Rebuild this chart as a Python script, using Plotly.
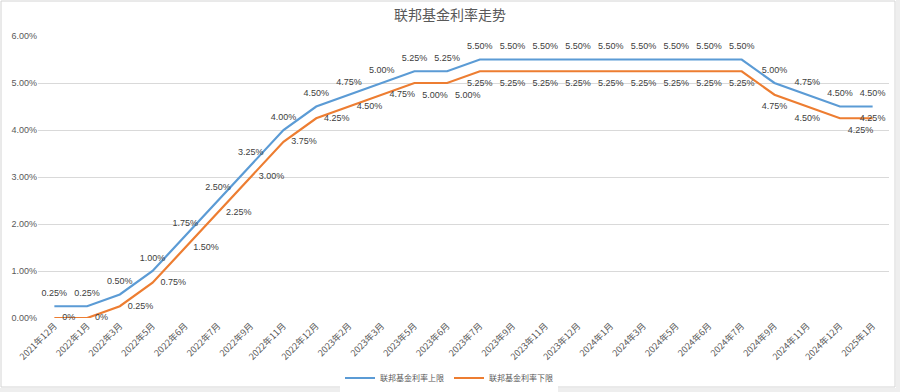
import plotly.graph_objects as go

categories = ["2021年12月", "2022年1月", "2022年3月", "2022年5月", "2022年6月", "2022年7月",
              "2022年9月", "2022年11月", "2022年12月", "2023年2月", "2023年3月", "2023年5月",
              "2023年6月", "2023年7月", "2023年9月", "2023年11月", "2023年12月", "2024年1月",
              "2024年3月", "2024年5月", "2024年6月", "2024年7月", "2024年9月", "2024年11月",
              "2024年12月", "2025年1月"]
upper = [0.25, 0.25, 0.50, 1.00, 1.75, 2.50, 3.25, 4.00, 4.50, 4.75, 5.00, 5.25, 5.25,
         5.50, 5.50, 5.50, 5.50, 5.50, 5.50, 5.50, 5.50, 5.50, 5.00, 4.75, 4.50, 4.50]
lower = [0.00, 0.00, 0.25, 0.75, 1.50, 2.25, 3.00, 3.75, 4.25, 4.50, 4.75, 5.00, 5.00,
         5.25, 5.25, 5.25, 5.25, 5.25, 5.25, 5.25, 5.25, 5.25, 4.75, 4.50, 4.25, 4.25]
y_ticks = [0, 1, 2, 3, 4, 5, 6]
y_tick_labels = ["0.00%", "1.00%", "2.00%", "3.00%", "4.00%", "5.00%", "6.00%"]


def fmt(v):
    return "0%" if v == 0 else f"{v:.2f}%"


lower_pos = (["middle right"] * 11 + ["bottom right"] * 2 + ["bottom center"] * 9
             + ["bottom center", "bottom center", "bottom right", "middle center"])

BLUE = "#5B9BD5"
ORANGE = "#ED7D31"
FONT = "Noto Sans CJK SC, Liberation Sans, sans-serif"
LABEL_FONT = dict(size=9, color="#404040", family="Liberation Sans, sans-serif")
CLEAR = "rgba(0,0,0,0)"

fig = go.Figure()
fig.add_trace(go.Scatter(
    x=categories, y=upper, mode="lines+markers+text", name="联邦基金利率上限",
    line=dict(color=BLUE, width=2.2),
    marker=dict(size=11, color=CLEAR, line=dict(width=0)),
    text=[fmt(v) for v in upper], textposition="top center",
    textfont=LABEL_FONT, cliponaxis=False,
))
fig.add_trace(go.Scatter(
    x=categories, y=lower, mode="lines+markers+text", name="联邦基金利率下限",
    line=dict(color=ORANGE, width=2.2),
    marker=dict(size=11, color=CLEAR, line=dict(width=0)),
    text=[fmt(v) for v in lower], textposition=lower_pos,
    textfont=LABEL_FONT, cliponaxis=False,
))

# frame: plot area spans x 38..889 px, y 36..318 px
def px_x(p):
    return (p - 38) / 851.0


def px_y(p):
    return (318 - p) / 282.0


shapes = [
    dict(type="rect", xref="paper", yref="paper", x0=px_x(1), x1=px_x(895), y0=px_y(387), y1=px_y(1),
         line=dict(color="#d4d4d4", width=1), fillcolor=CLEAR, layer="below"),
    dict(type="rect", xref="paper", yref="paper", x0=px_x(896), x1=px_x(905), y0=px_y(400), y1=px_y(-5),
         line=dict(width=0), fillcolor="#eeeeee", layer="below"),
    dict(type="rect", xref="paper", yref="paper", x0=px_x(-5), x1=px_x(905), y0=px_y(400), y1=px_y(388),
         line=dict(width=0), fillcolor="#eeeeee", layer="below"),
]

fig.update_layout(
    width=900, height=392,
    margin=dict(l=38, r=11, t=36, b=74, autoexpand=False),
    paper_bgcolor="white", plot_bgcolor="white",
    title=dict(text="联邦基金利率走势", x=0.5, xref="container", xanchor="center",
               y=1 - 15 / 392, yref="container", yanchor="middle",
               font=dict(size=14, color="#595959", family=FONT)),
    font=dict(family=FONT, color="#595959"),
    showlegend=True,
    legend=dict(orientation="h", x=px_x(449), xanchor="center",
                y=px_y(378), yanchor="middle", font=dict(size=8, color="#595959"),
                itemwidth=30),
    shapes=shapes,
    xaxis=dict(type="category", tickangle=-45, tickfont=dict(size=9, color="#595959", family=FONT),
               showgrid=False, showline=False, ticks="", zeroline=False, automargin=False,
               range=[-0.5, len(categories) - 0.5], nticks=40),
    yaxis=dict(range=[0, 6], tickvals=y_ticks, ticktext=y_tick_labels, automargin=False,
               tickfont=dict(size=9, color="#595959", family="Liberation Sans, sans-serif"),
               showgrid=True, gridcolor="#d9d9d9", gridwidth=1, zeroline=False, showline=False),
)

fig.write_html("out.html", config={"displayModeBar": False},
               post_script="document.body.style.margin='0';")
